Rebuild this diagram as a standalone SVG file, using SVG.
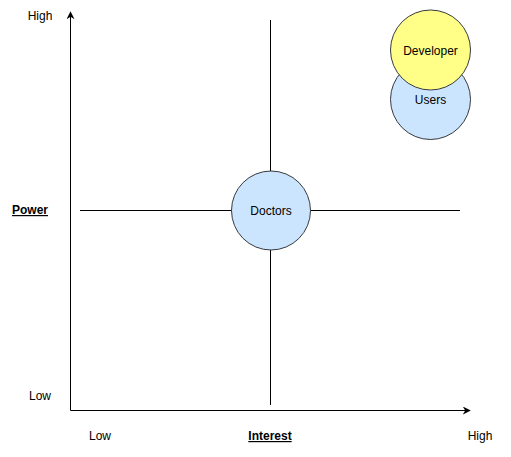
<svg xmlns="http://www.w3.org/2000/svg" width="511" height="457" viewBox="0 0 511 457">
<style>
.ln{stroke:#000;stroke-width:1;fill:none}
.c{stroke:#36393d;stroke-width:1}
.t{font-family:"Liberation Sans",Arial,sans-serif;font-size:12px;fill:#000}
.b{font-weight:bold;text-decoration:underline}
</style>
<defs>
<marker id="ah" viewBox="0 0 10 10" refX="9" refY="5" markerWidth="8" markerHeight="8" markerUnits="userSpaceOnUse" orient="auto">
<path d="M0,0 L10,5 L0,10 L3,5 Z" fill="#000"/>
</marker>
</defs>
<rect width="511" height="457" fill="#fff"/>
<g id="connectors">
<line class="ln" x1="70.5" y1="410.5" x2="70.5" y2="12" marker-end="url(#ah)"/>
<line class="ln" x1="70.5" y1="410.5" x2="470" y2="410.5" marker-end="url(#ah)"/>
<line class="ln" x1="270.5" y1="20" x2="270.5" y2="405"/>
<line class="ln" x1="80" y1="210.5" x2="460" y2="210.5"/>
</g>
<g id="doctors">
<circle class="c" cx="271" cy="210.5" r="39.5" fill="#cce5ff"/>
<text class="t" x="271" y="214.5" text-anchor="middle">Doctors</text>
</g>
<g id="users">
<circle class="c" cx="430.5" cy="99.5" r="40" fill="#cce5ff"/>
<text class="t" x="430.5" y="104" text-anchor="middle">Users</text>
</g>
<g id="developer">
<circle class="c" cx="430.5" cy="50" r="40" fill="#ffff88"/>
<text class="t" x="430.5" y="55" text-anchor="middle">Developer</text>
</g>
<g id="labels">
<text class="t" x="40" y="20" text-anchor="middle">High</text>
<text class="t" x="40" y="400" text-anchor="middle">Low</text>
<text class="t b" x="30" y="214" text-anchor="middle">Power</text>
<text class="t" x="100" y="440" text-anchor="middle">Low</text>
<text class="t b" x="270" y="440" text-anchor="middle">Interest</text>
<text class="t" x="480" y="440" text-anchor="middle">High</text>
</g>
</svg>
